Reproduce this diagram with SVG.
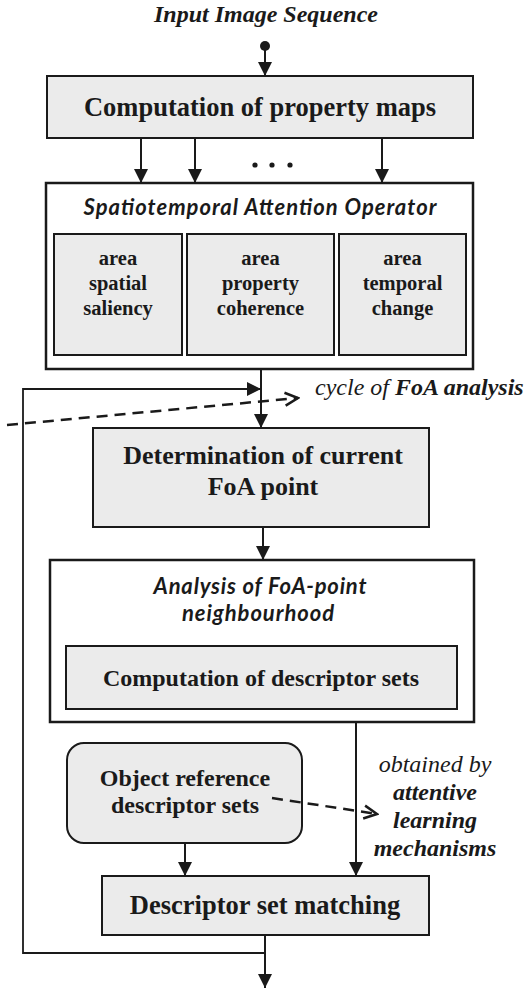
<svg xmlns="http://www.w3.org/2000/svg" width="529" height="990" viewBox="0 0 529 990">
<defs>
<marker id="arr" markerUnits="userSpaceOnUse" markerWidth="15" markerHeight="15" refX="14" refY="7" orient="auto">
<path d="M0,0 L14,7 L0,14 z" fill="#1a1a1a"/>
</marker>
<marker id="open" markerUnits="userSpaceOnUse" markerWidth="16" markerHeight="16" refX="14" refY="8" orient="auto">
<path d="M1,1.5 L14,8 L1,14.5" fill="none" stroke="#1a1a1a" stroke-width="2.5"/>
</marker>
</defs>
<style>
.box{fill:#ebebeb;stroke:#1a1a1a;stroke-width:2}
.frame{fill:#ffffff;stroke:#1a1a1a;stroke-width:2.5}
.serifB{font-family:"Liberation Serif","Times New Roman",serif;font-weight:bold;fill:#1a1a1a;text-anchor:middle}
.serifI{font-family:"Liberation Serif","Times New Roman",serif;font-style:italic;fill:#1a1a1a}
.sansBI{font-family:Lato,"Open Sans",sans-serif;font-style:italic;font-weight:bold;fill:#1a1a1a;text-anchor:middle}
.line{fill:none;stroke:#1a1a1a;stroke-width:2}
.thin{fill:none;stroke:#1a1a1a;stroke-width:1.8}
.dash{fill:none;stroke:#1a1a1a;stroke-width:2.5;stroke-dasharray:11 7}
</style>
<rect width="529" height="990" fill="#ffffff"/>

<g id="input">
<text class="serifB" x="266" y="22" font-size="24" font-style="italic">Input Image Sequence</text>
<circle cx="265" cy="46" r="5" fill="#1a1a1a"/>
</g>

<g id="property-maps">
<rect class="box" x="47" y="76" width="426" height="62"/>
<text class="serifB" x="260" y="116" font-size="26.5">Computation of property maps</text>
</g>

<g id="ellipsis">
<circle cx="255" cy="165" r="2.6" fill="#1a1a1a"/>
<circle cx="272" cy="165" r="2.6" fill="#1a1a1a"/>
<circle cx="290" cy="165" r="2.6" fill="#1a1a1a"/>
</g>

<g id="attention-operator">
<rect class="frame" x="46" y="183" width="427" height="186"/>
<text class="sansBI" x="260" y="215" font-size="22" font-weight="normal" textLength="353">Spatiotemporal Attention Operator</text>
</g>
<g id="spatial-saliency">
<rect class="box" x="54" y="234" width="128" height="121"/>
<text class="serifB" x="118" y="265" font-size="20.5">area</text>
<text class="serifB" x="118" y="290" font-size="20.5">spatial</text>
<text class="serifB" x="118" y="315" font-size="20.5">saliency</text>
</g>
<g id="property-coherence">
<rect class="box" x="187" y="234" width="147" height="121"/>
<text class="serifB" x="260.5" y="265" font-size="20.5">area</text>
<text class="serifB" x="260.5" y="290" font-size="20.5">property</text>
<text class="serifB" x="260.5" y="315" font-size="20.5">coherence</text>
</g>
<g id="temporal-change">
<rect class="box" x="339" y="234" width="127" height="121"/>
<text class="serifB" x="402.5" y="265" font-size="20.5">area</text>
<text class="serifB" x="402.5" y="290" font-size="20.5">temporal</text>
<text class="serifB" x="402.5" y="315" font-size="20.5">change</text>
</g>

<g id="foa-point">
<rect class="box" x="93" y="428" width="336" height="99"/>
<text class="serifB" x="263" y="464" font-size="26">Determination of current</text>
<text class="serifB" x="263" y="495" font-size="26">FoA point</text>
</g>

<g id="neighbourhood-analysis">
<rect class="frame" x="50" y="560" width="424" height="162"/>
<text class="sansBI" x="260" y="594" font-size="22" textLength="213">Analysis of FoA-point</text>
<text class="sansBI" x="258" y="621" font-size="22" textLength="152">neighbourhood</text>
</g>
<g id="descriptor-sets">
<rect class="box" x="66" y="646" width="391" height="63"/>
<text class="serifB" x="261" y="686" font-size="24">Computation of descriptor sets</text>
</g>

<g id="object-reference">
<rect class="box" x="67" y="743" width="235" height="100" rx="17" ry="17"/>
<text class="serifB" x="185" y="786" font-size="24">Object reference</text>
<text class="serifB" x="185" y="813" font-size="24">descriptor sets</text>
</g>

<g id="matching">
<rect class="box" x="102" y="876" width="327" height="59"/>
<text class="serifB" x="265" y="914" font-size="26.5">Descriptor set matching</text>
</g>

<g id="annotations">
<text class="serifI" x="315" y="395" font-size="24">cycle of <tspan font-weight="bold">FoA analysis</tspan></text>
<text class="serifI" x="435" y="772" font-size="24" text-anchor="middle">obtained by</text>
<text class="serifI" x="435" y="800" font-size="24" font-weight="bold" text-anchor="middle">attentive</text>
<text class="serifI" x="435" y="828" font-size="24" font-weight="bold" text-anchor="middle">learning</text>
<text class="serifI" x="435" y="856" font-size="24" font-weight="bold" text-anchor="middle">mechanisms</text>
</g>

<g id="connectors">
<line class="line" x1="265" y1="46" x2="265" y2="76" marker-end="url(#arr)"/>
<line class="line" x1="141" y1="138" x2="141" y2="183" marker-end="url(#arr)"/>
<line class="line" x1="195" y1="138" x2="195" y2="183" marker-end="url(#arr)"/>
<line class="line" x1="382" y1="138" x2="382" y2="183" marker-end="url(#arr)"/>
<line class="line" x1="261" y1="369" x2="261" y2="428" marker-end="url(#arr)"/>
<line class="line" x1="263" y1="527" x2="263" y2="560" marker-end="url(#arr)"/>
<line class="line" x1="356" y1="722" x2="356" y2="876" marker-end="url(#arr)"/>
<line class="line" x1="185" y1="843" x2="185" y2="876" marker-end="url(#arr)"/>
<line class="line" x1="265" y1="935" x2="265" y2="988" marker-end="url(#arr)"/>
<path class="thin" d="M265,953 L23,953 L23,389 L261,389" marker-end="url(#arr)"/>
<line class="dash" x1="7" y1="425" x2="298" y2="398" marker-end="url(#open)"/>
<line class="dash" x1="272" y1="798" x2="377" y2="814" marker-end="url(#open)"/>
</g>
</svg>
